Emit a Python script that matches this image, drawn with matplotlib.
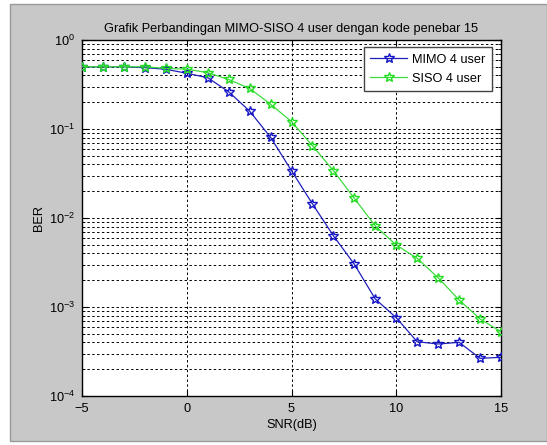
import matplotlib
matplotlib.use("Agg")
import matplotlib.pyplot as plt
from matplotlib.patches import Rectangle
from matplotlib.ticker import LogLocator, NullFormatter
import numpy as np

plt.rcParams['font.family'] = ['Liberation Sans', 'DejaVu Sans']
plt.rcParams['mathtext.fontset'] = 'custom'
plt.rcParams['mathtext.rm'] = 'Liberation Sans'
plt.rcParams['mathtext.it'] = 'Liberation Sans'

# data
snr = np.arange(-5, 16)
ber_mimo = [0.50, 0.50, 0.50, 0.489, 0.469, 0.423, 0.377, 0.262, 0.159, 0.0807, 0.034,
            0.0144, 0.00632, 0.00302, 0.00123, 0.000758, 0.000407, 0.000384, 0.000401,
            0.000265, 0.000272]
ber_siso = [0.50, 0.50, 0.50, 0.50, 0.48, 0.47, 0.43, 0.36, 0.286, 0.19, 0.121,
            0.0649, 0.034, 0.01665, 0.00813, 0.00497, 0.00352, 0.00213, 0.00120,
            0.000733, 0.000528]
xticks = [-5, 0, 5, 10, 15]

FS = 9.2
W, H = 547, 445
fig = plt.figure(figsize=(W / 100, H / 100), dpi=100, facecolor='white')
# grey figure window panel
fig.patches.append(Rectangle((10 / W, 4 / H), (W - 10) / W, (H - 8) / H,
                             transform=fig.transFigure, facecolor='#c8c8c8',
                             edgecolor='#9a9a9a', linewidth=1, zorder=-10))

ax = fig.add_axes([82 / W, 1 - 396 / H, 419 / W, 356 / H])
ax.set_facecolor('white')

ax.semilogy(snr, ber_mimo, color='#2020b8', lw=0.9, marker='*', ms=7,
            mfc='none', mec='#1515c8', mew=1.0, label='MIMO 4 user', zorder=3)
ax.semilogy(snr, ber_siso, color='#3cdc3c', lw=0.9, marker='*', ms=7,
            mfc='none', mec='#22dd22', mew=1.0, label='SISO 4 user', zorder=3)

ax.set_xlim(-5, 15)
ax.set_ylim(1e-4, 1)
ax.set_xticks(xticks)
ax.yaxis.set_major_locator(LogLocator(base=10, numticks=10))
ax.yaxis.set_minor_locator(LogLocator(base=10, subs=np.arange(2, 10), numticks=20))
ax.yaxis.set_minor_formatter(NullFormatter())

grid_style = dict(color='black', linestyle=(0, (2.5, 2.5)), linewidth=0.7)
ax.grid(True, which='major', axis='both', **grid_style)
ax.grid(True, which='minor', axis='y', **grid_style)
ax.set_axisbelow(True)

ax.tick_params(which='both', direction='in', top=True, right=True, labelsize=FS)
ax.tick_params(which='major', length=4, pad=5)
ax.tick_params(which='minor', length=2)
for s in ax.spines.values():
    s.set_linewidth(1.0)

ax.set_xlabel('SNR(dB)', fontsize=FS, labelpad=3)
ax.set_ylabel('BER', fontsize=FS, labelpad=3)
ax.set_title('Grafik Perbandingan MIMO-SISO 4 user dengan kode penebar 15',
             fontsize=FS, pad=6)

leg = ax.legend(loc='upper right', bbox_to_anchor=(0.978, 0.980), borderaxespad=0,
                fontsize=FS, fancybox=False, framealpha=1, edgecolor='#444444',
                handlelength=2.9, borderpad=0.5, labelspacing=0.55, handletextpad=0.4)
leg.get_frame().set_linewidth(1.0)

fig.savefig('out.png', dpi=100, facecolor=fig.get_facecolor())
